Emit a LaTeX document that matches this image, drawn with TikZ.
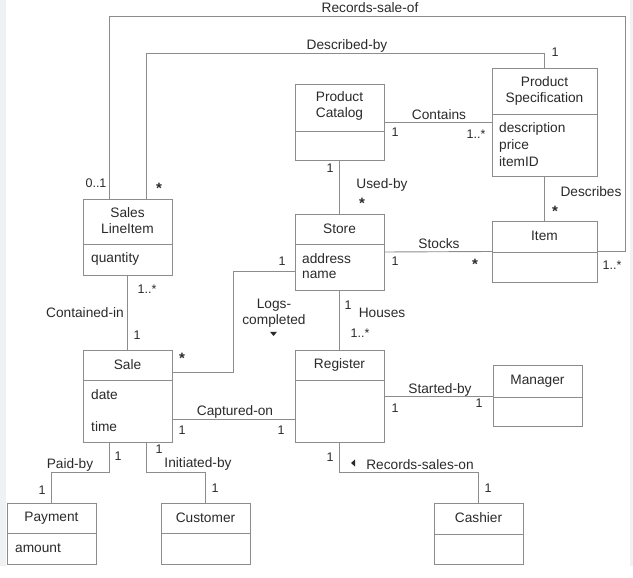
\documentclass[tikz,border=0pt]{standalone}
\usepackage{fontspec}
\setmainfont{Liberation Sans}
\definecolor{ln}{HTML}{8C8C8C}
\definecolor{tx}{HTML}{2A2A2A}
\definecolor{bgs}{HTML}{F0F1F4}
\begin{document}
\begin{tikzpicture}[x=1pt,y=-1pt,
  box/.style={draw=ln,line width=0.9pt,fill=white,inner sep=0pt,outer sep=0pt,anchor=north west},
  conn/.style={draw=ln,line width=0.9pt},
  divl/.style={draw=ln,line width=0.9pt},
  ttl/.style={font=\fontsize{13.7}{16}\selectfont,text=tx,inner sep=0pt,align=center},
  attr/.style={font=\fontsize{13.7}{16.5}\selectfont,text=tx,inner sep=0pt,align=left,anchor=west},
  lbl/.style={font=\fontsize{13.7}{16}\selectfont,text=tx,inner sep=0pt,align=center},
  mult/.style={font=\fontsize{12.5}{14}\selectfont,text=tx,inner sep=0pt},
  star/.style={font=\fontsize{15}{16}\selectfont\bfseries,text=tx,inner sep=0pt}]
\useasboundingbox (0,0) rectangle (633,578);
\fill[bgs] (0,0) rectangle (6,566);
\fill[bgs] (630,0) rectangle (633,566);

% ---------- turn points ----------
\coordinate (rs1) at (109,16);
\coordinate (rs2) at (625,16);
\coordinate (db1) at (146,53);
\coordinate (lc1) at (233,271);
\coordinate (lc2) at (233,372);
\coordinate (co) at (0,419);
\coordinate (pb) at (109,472);
\coordinate (ib) at (146,472);
\coordinate (rso) at (0,472);

% ---------- boxes ----------
\node[box,minimum width=89,minimum height=76] (sli) at (83,199) {};
\node[box,minimum width=89,minimum height=76] (pc) at (295,84) {};
\node[box,minimum width=105,minimum height=108] (ps) at (492,68) {};
\node[box,minimum width=89,minimum height=76] (store) at (295,214) {};
\node[box,minimum width=105,minimum height=61] (item) at (492,221) {};
\node[box,minimum width=89,minimum height=92] (sale) at (83,350) {};
\node[box,minimum width=89,minimum height=92] (reg) at (295,350) {};
\node[box,minimum width=89,minimum height=61] (mgr) at (493,365) {};
\node[box,minimum width=89,minimum height=61] (pay) at (7,503) {};
\node[box,minimum width=89,minimum height=61] (cust) at (161,503) {};
\node[box,minimum width=89,minimum height=61] (cash) at (434,503) {};

% dividers
\draw[divl] (sli.west |- 0,244) -- (sli.east |- 0,244);
\draw[divl] (pc.west |- 0,131) -- (pc.east |- 0,131);
\draw[divl] (ps.west |- 0,114) -- (ps.east |- 0,114);
\draw[divl] (store.west |- 0,244) -- (store.east |- 0,244);
\draw[divl] (item.west |- 0,252) -- (item.east |- 0,252);
\draw[divl] (sale.west |- 0,380) -- (sale.east |- 0,380);
\draw[divl] (reg.west |- 0,380) -- (reg.east |- 0,380);
\draw[divl] (mgr.west |- 0,397) -- (mgr.east |- 0,397);
\draw[divl] (pay.west |- 0,533) -- (pay.east |- 0,533);
\draw[divl] (cust.west |- 0,533) -- (cust.east |- 0,533);
\draw[divl] (cash.west |- 0,534) -- (cash.east |- 0,534);

% titles
\node[ttl] (tsli) at (127.5,221) {Sales\\LineItem};
\node[ttl] (tpc) at (339.5,106) {Product\\Catalog};
\node[ttl] (tps) at (544.5,91) {Product\\Specification};
\node[ttl] (tstore) at (339.5,229) {Store};
\node[ttl] (titem) at (544.5,236) {Item};
\node[ttl] (tsale) at (127.5,365) {Sale};
\node[ttl] (treg) at (339.5,365) {Register};
\node[ttl] (tmgr) at (537.5,381) {Manager};
\node[ttl] (tpay) at (51.5,518) {Payment};
\node[ttl] (tcust) at (205.5,518) {Customer};
\node[ttl] (tcash) at (478.5,518) {Cashier};

% attributes
\node[attr] (asli) at (91,259) {quantity};
\node[attr] (aps1) at (499,129) {description};
\node[attr] (aps2) at (499,145.5) {price};
\node[attr] (aps3) at (499,162) {itemID};
\node[attr] (ast1) at (302,259) {address};
\node[attr] (ast2) at (302,275) {name};
\node[attr] (asa1) at (91,395) {date};
\node[attr] (asa2) at (91,427) {time};
\node[attr] (apay) at (15,548) {amount};

% ---------- connectors ----------
\draw[conn] (sli.north -| rs1) -- (rs1) -- (rs2) |- (item.east);
\draw[conn] (sli.north -| db1) -- (db1) -- (ps.north |- db1) -- (ps.north);
\draw[conn] (pc.east) -- (ps.west);
\draw[conn] (pc.south) -- (store.north);
\draw[conn] (ps.south) -- (item.north);
\draw[conn] (store.east) -- (item.west);
\draw[conn] (store.south) -- (reg.north);
\draw[conn] (sli.south) -- (sale.north);
\draw[conn] (store.west |- lc1) -- (lc1) -- (lc2) -- (sale.east |- lc2);
\draw[conn] (sale.east |- co) -- (reg.west |- co);
\draw[conn] (reg.east) -- (reg.east -| mgr.west);
\draw[conn] (sale.south -| pb) -- (pb) -| (pay.north);
\draw[conn] (sale.south -| ib) -- (ib) -| (cust.north);
\draw[conn] (reg.south) -- (reg.south |- rso) -| (cash.north);

% association labels
\node[lbl] (lrs) at (370,8) {Records-sale-of};
\node[lbl] (ldb) at (347,46) {Described-by};
\node[lbl] (lco) at (439,115) {Contains};
\node[lbl] (lub) at (382,185) {Used-by};
\node[lbl] (lde) at (591,192) {Describes};
\node[lbl] (lst) at (439,244) {Stocks};
\node[lbl] (lho) at (382,313) {Houses};
\node[lbl] (lci) at (85,313) {Contained-in};
\node[lbl] (llc) at (274,313) {Logs-\\completed};
\node[lbl] (lcap) at (235,412) {Captured-on};
\node[lbl] (lsb) at (440,390) {Started-by};
\node[lbl] (lpb) at (70,465) {Paid-by};
\node[lbl] (lib) at (198,464) {Initiated-by};
\node[lbl] (lrso) at (420,465) {Records-sales-on};

% direction triangles
\fill[tx] (270,331.8) -- (277,331.8) -- (273.5,336) -- cycle;
\fill[tx] (351,463) -- (355,459.5) -- (355,466.5) -- cycle;

% multiplicities
\node[mult] (m1) at (96,183) {0..1};
\node[star] (m2) at (159,188) {*};
\node[mult] (m3) at (612,265) {1..*};
\node[mult] (m4) at (555,52) {1};
\node[mult] (m5) at (395,132) {1};
\node[mult] (m6) at (476,134) {1..*};
\node[mult] (m7) at (330,168) {1};
\node[star] (m8) at (362,203) {*};
\node[star] (m9) at (555,211) {*};
\node[mult] (m10) at (395,261) {1};
\node[star] (m11) at (475,264) {*};
\node[mult] (m12) at (282,261) {1};
\node[mult] (m13) at (348,305) {1};
\node[mult] (m14) at (360,333) {1..*};
\node[mult] (m15) at (147,289) {1..*};
\node[mult] (m16) at (137,335) {1};
\node[star] (m17) at (182,358) {*};
\node[mult] (m18) at (182,430) {1};
\node[mult] (m19) at (281,430) {1};
\node[mult] (m20) at (395,408) {1};
\node[mult] (m21) at (479,403) {1};
\node[mult] (m22) at (118,456) {1};
\node[mult] (m23) at (42,490) {1};
\node[mult] (m24) at (159,449) {1};
\node[mult] (m25) at (215,488) {1};
\node[mult] (m26) at (330,457) {1};
\node[mult] (m27) at (488,488) {1};
\end{tikzpicture}
\end{document}
